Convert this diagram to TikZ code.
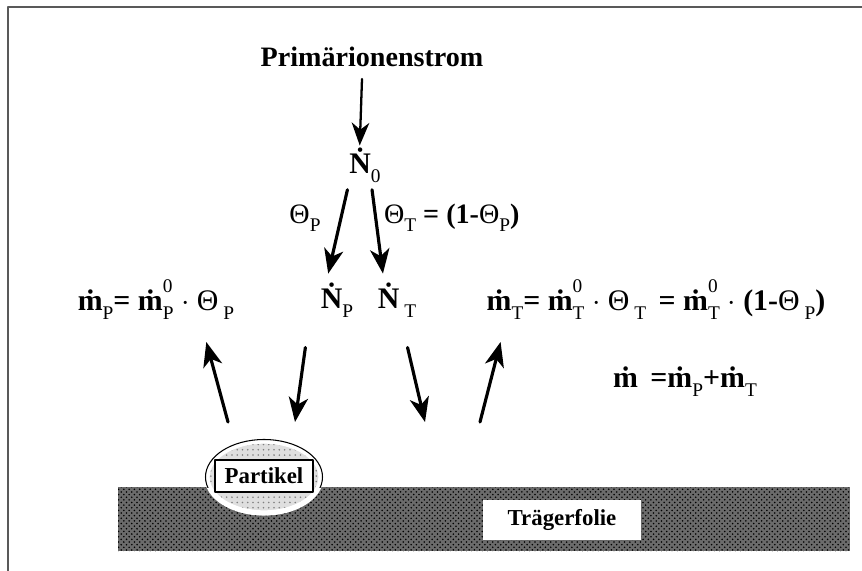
\documentclass[tikz,border=0pt]{standalone}
\usepackage{fontspec}
\setmainfont{Liberation Serif}
\usetikzlibrary{arrows.meta,shapes,patterns,calc}
\newcommand{\md}{\.{m}}
\newcommand{\Nd}{\.{N}}
\newcommand{\sub}[1]{\raisebox{-0.3em}{\fontsize{11}{11}\selectfont\mdseries #1}}
\newcommand{\supsub}[2]{\rlap{\raisebox{0.6em}{\fontsize{11}{11}\selectfont\mdseries #1}}\sub{#2}}
\newcommand{\Th}{{\mdseries Θ}}
\tikzset{
  every picture/.style={line join=round, line cap=round},
  eq/.style={font=\fontsize{17}{19}\selectfont\bfseries, inner sep=1pt},
  lbl/.style={font=\fontsize{13}{15}\selectfont\bfseries},
  arr/.style={-{Stealth[length=14pt,width=11pt,inset=4pt]}, line width=1.8pt},
}
\begin{document}
\begin{tikzpicture}[x=0.02cm, y=0.02cm, yscale=-1]
    \useasboundingbox (0,0) rectangle (862,571);
    % Frame
    \draw[gray!70!black, line width=0.8pt] (8,571) -- (8,7) -- (862,7);
    % Ion current
    \node[eq, font=\fontsize{16}{18}\selectfont\bfseries] (title) at (372,57) {Primärionenstrom};
    \node[eq] (N0) at (365,165) {\Nd\sub{0}};
    \draw[-{Stealth[length=13pt,width=10pt,inset=4pt]}, line width=1.3pt] (title.south -| N0) ++(-3,10) -- ([xshift=-3]N0.north);
    % Splitting
    \node[eq] (NP) at (337,300) {\Nd\sub{P}};
    \node[eq] (NT) at (397,300) {\Nd\,\sub{T}};
    \draw[arr] ([xshift=-10,yshift=3]N0.south) -- ([xshift=-5,yshift=-4]NP.north);
    \draw[arr] ([xshift=4,yshift=3]N0.south) -- ([xshift=-8,yshift=-4]NT.north);
    \node[eq, font=\fontsize{16}{18}\selectfont\bfseries] (thP) at (305,218) {\Th\sub{P}};
    \node[eq, font=\fontsize{16}{18}\selectfont\bfseries, anchor=west] (thT) at (382,218) {\Th\sub{T} = (1-\Th\sub{P})};
    % Mass rates
    \node[eq] (mP) at (156,300) {\md\sub{P}= \md\supsub{0}{P} $\cdot$ \Th\,\sub{P}};
    \node[eq] (mT) at (656,300) {\md\sub{T}= \md\supsub{0}{T} $\cdot$ \Th\,\sub{T} \,= \md\supsub{0}{T} $\cdot$ (1-\Th\,\sub{P})};
    \node[eq] (m) at (685,382) {\md\, =\md\sub{P}+\md\sub{T}};
    % Free ends at the surface
    \coordinate (pa) at (228,422);
    \coordinate (pb) at (295,422);
    \coordinate (ta) at (425,422);
    \coordinate (tb) at (480,422);
    \draw[arr] (pa) -- ($(mP.south east)+(-30,20)$);
    \draw[arr] ([xshift=-18,yshift=16]NP.south) -- (pb);
    \draw[arr] ([xshift=6,yshift=16]NT.south) -- (ta);
    \draw[arr] (tb) -- ($(mT.south west)+(16,20)$);
    % Carrier foil
    \fill[black!58] (118,487) rectangle (850,551);
    \fill[pattern=crosshatch dots, pattern color=black] (118,487) rectangle (850,551);
    \node[lbl, fill=white, minimum width=3.18cm, minimum height=0.8cm] (foil) at (562,520) {Trägerfolie};
    % Particle
    \fill[gray!25] (264,477) ellipse [x radius=57, y radius=36];
    \fill[pattern=dots, pattern color=gray] (264,477) ellipse [x radius=57, y radius=36];
    \draw[white, line width=3pt] (264,477) ellipse [x radius=57, y radius=36];
    \begin{scope}
        \clip (150,420) rectangle (400,487);
        \draw[line width=0.6pt] (264,477) ellipse [x radius=58.5, y radius=37.5];
    \end{scope}
    \node[lbl, draw, line width=0.6pt, fill=white, minimum width=1.96cm, minimum height=0.64cm] (part) at (264,476) {Partikel};
\end{tikzpicture}
\end{document}
